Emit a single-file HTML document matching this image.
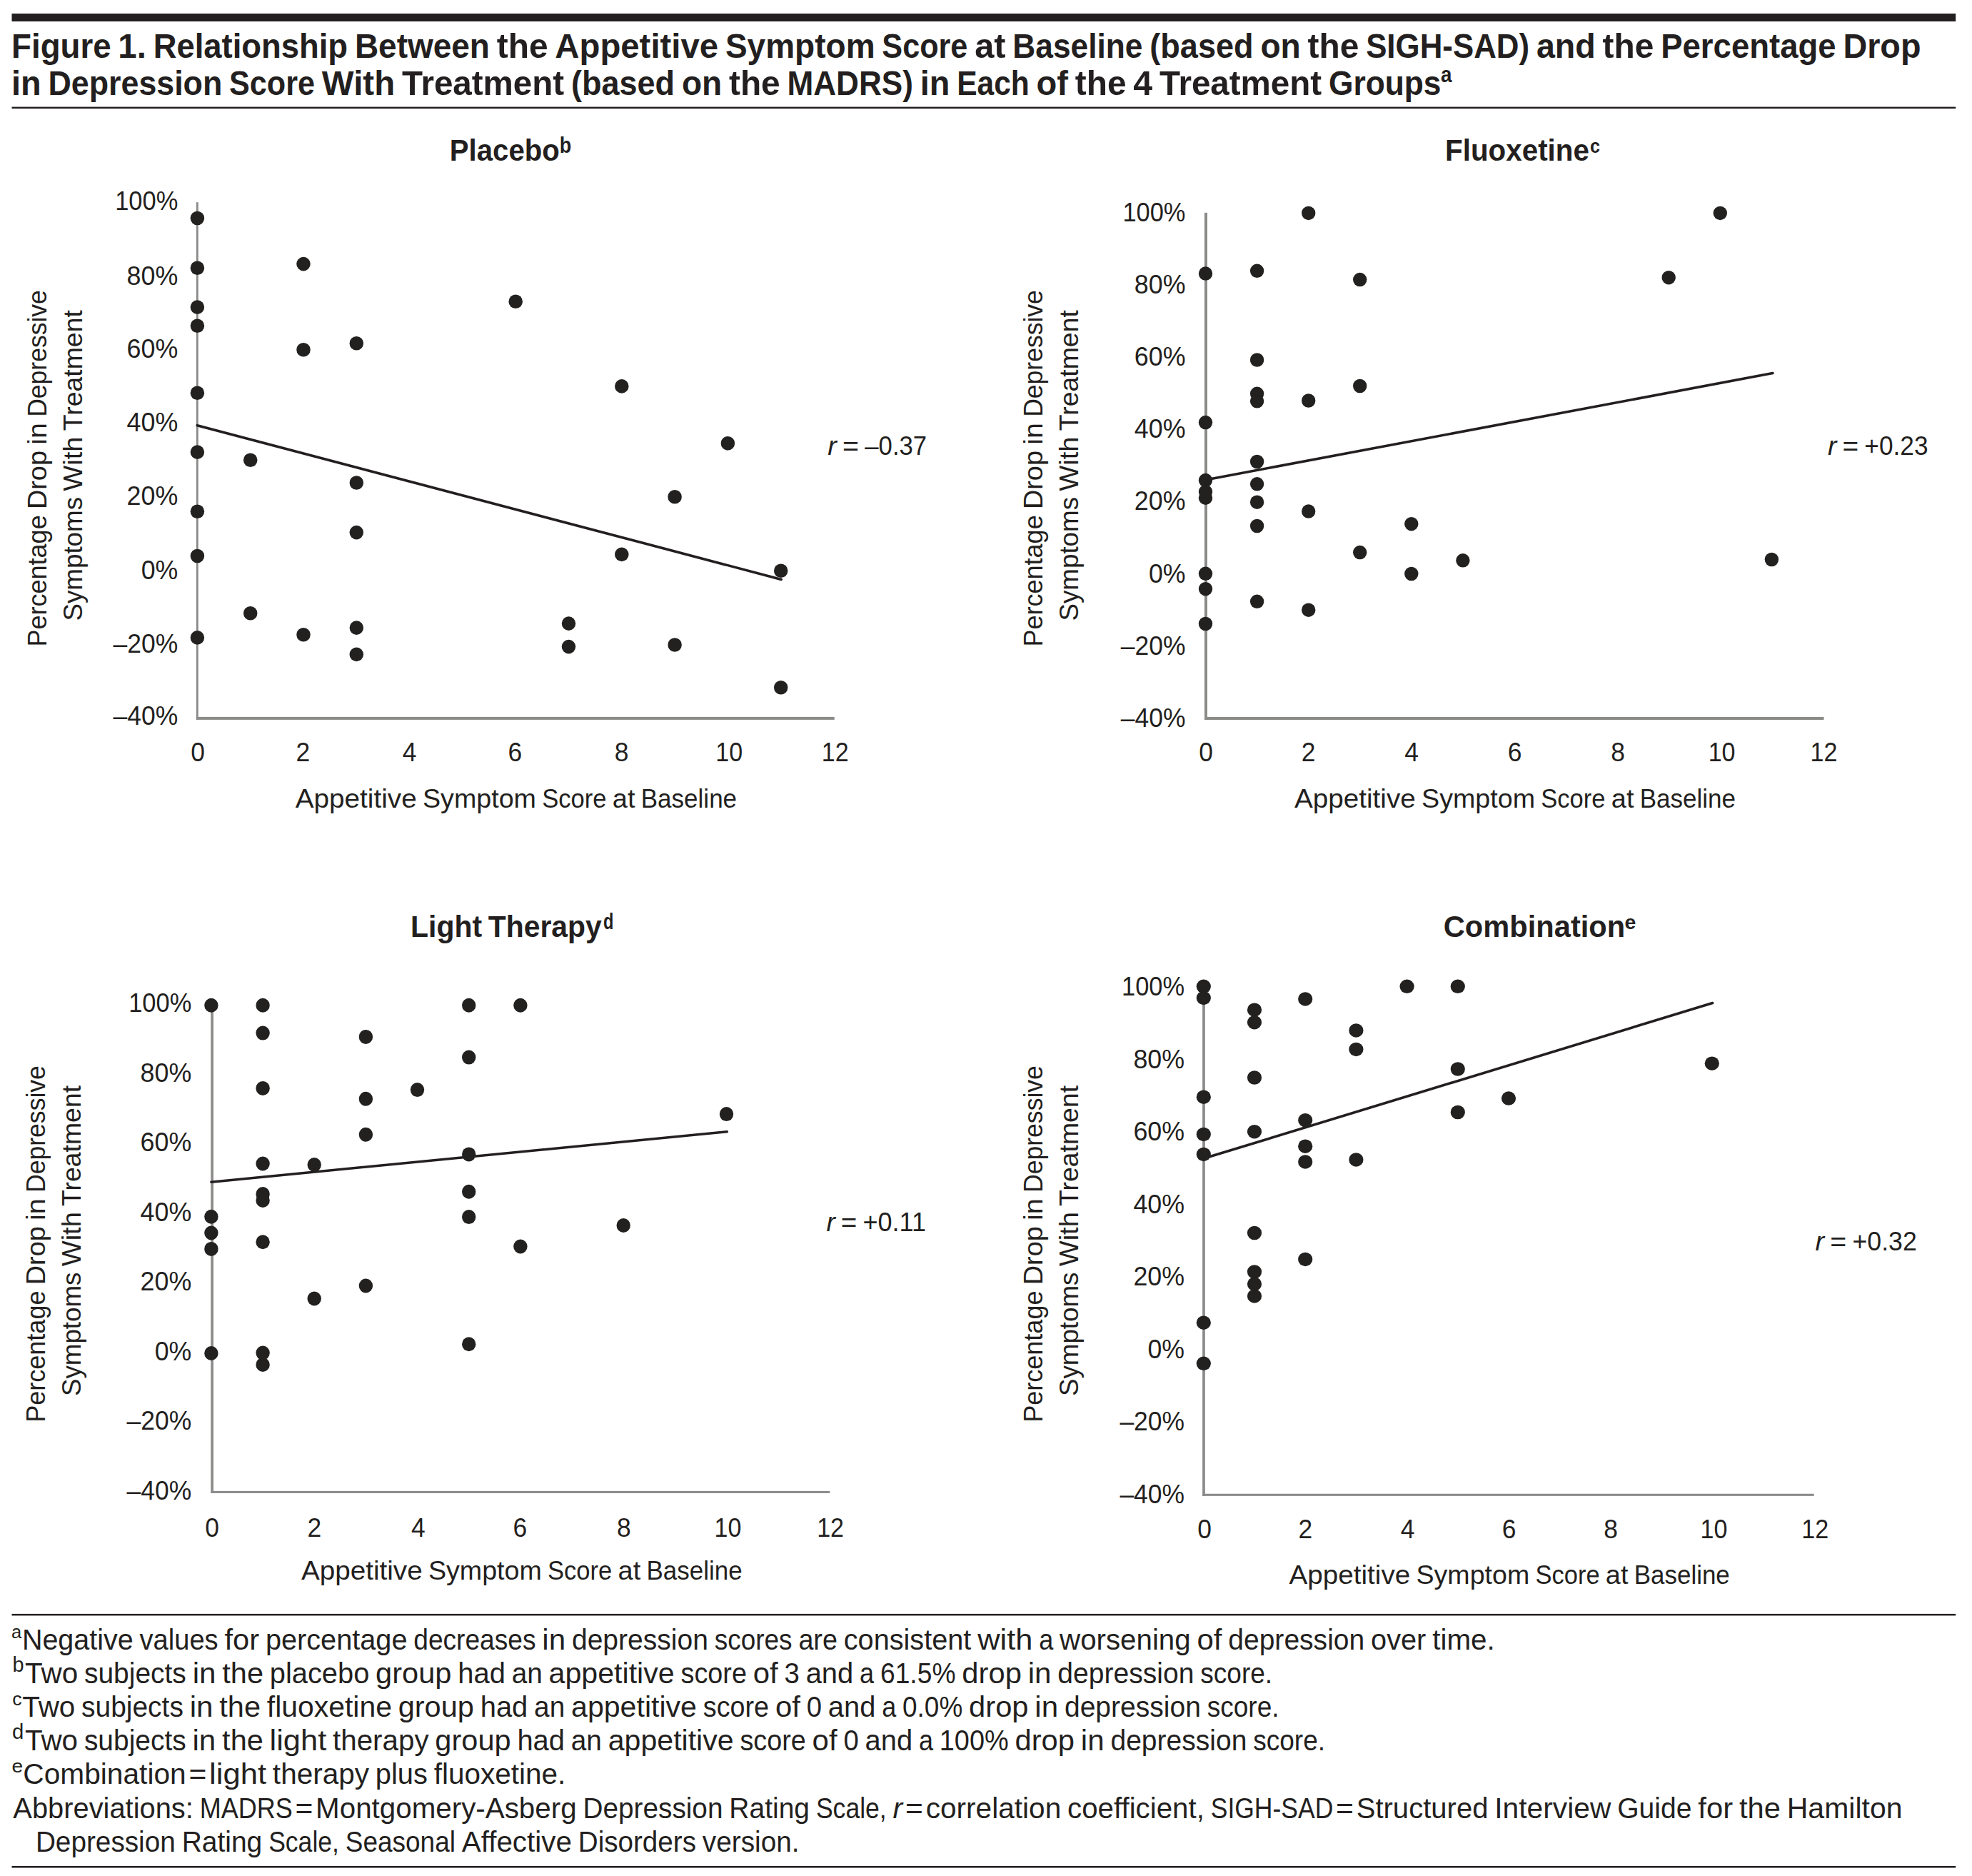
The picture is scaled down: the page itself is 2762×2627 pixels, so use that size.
<!DOCTYPE html>
<html lang="en">
<head>
<meta charset="utf-8">
<title>Figure 1</title>
<style>
html,body{margin:0;padding:0;background:#fff;}
svg{display:block;}
text{font-family:"Liberation Sans",sans-serif;fill:#231f20;white-space:pre;}
</style>
</head>
<body>
<svg width="2762" height="2627" viewBox="0 0 2762 2627" fill="#231f20">
<rect x="0" y="0" width="2762" height="2627" fill="#ffffff"/>
<rect x="16.50" y="19.00" width="2722.70" height="11.00" fill="#231f20"/>
<rect x="16.50" y="149.60" width="2722.70" height="2.50" fill="#231f20"/>
<rect x="16.50" y="2259.90" width="2722.70" height="2.50" fill="#231f20"/>
<rect x="16.50" y="2613.00" width="2722.70" height="2.50" fill="#231f20"/>
<text y="80.50" font-size="48.5" font-weight="bold"><tspan x="16.10" textLength="139.46" lengthAdjust="spacingAndGlyphs">Figure</tspan> <tspan x="165.36" textLength="39.51" lengthAdjust="spacingAndGlyphs">1.</tspan> <tspan x="214.66" textLength="272.43" lengthAdjust="spacingAndGlyphs">Relationship</tspan> <tspan x="496.88" textLength="189.05" lengthAdjust="spacingAndGlyphs">Between</tspan> <tspan x="695.73" textLength="71.79" lengthAdjust="spacingAndGlyphs">the</tspan> <tspan x="777.31" textLength="228.80" lengthAdjust="spacingAndGlyphs">Appetitive</tspan> <tspan x="1015.91" textLength="209.66" lengthAdjust="spacingAndGlyphs">Symptom</tspan> <tspan x="1235.36" textLength="120.03" lengthAdjust="spacingAndGlyphs">Score</tspan> <tspan x="1365.18" textLength="43.39" lengthAdjust="spacingAndGlyphs">at</tspan> <tspan x="1418.35" textLength="182.12" lengthAdjust="spacingAndGlyphs">Baseline</tspan> <tspan x="1610.27" textLength="145.33" lengthAdjust="spacingAndGlyphs">(based</tspan> <tspan x="1765.39" textLength="56.38" lengthAdjust="spacingAndGlyphs">on</tspan> <tspan x="1831.56" textLength="71.79" lengthAdjust="spacingAndGlyphs">the</tspan> <tspan x="1913.14" textLength="229.00" lengthAdjust="spacingAndGlyphs">SIGH-SAD)</tspan> <tspan x="2151.94" textLength="82.89" lengthAdjust="spacingAndGlyphs">and</tspan> <tspan x="2244.62" textLength="71.79" lengthAdjust="spacingAndGlyphs">the</tspan> <tspan x="2326.21" textLength="245.38" lengthAdjust="spacingAndGlyphs">Percentage</tspan> <tspan x="2581.38" textLength="109.12" lengthAdjust="spacingAndGlyphs">Drop</tspan></text>
<text y="132.90" font-size="48.5" font-weight="bold"><tspan x="16.10" textLength="41.64" lengthAdjust="spacingAndGlyphs">in</tspan> <tspan x="67.52" textLength="243.80" lengthAdjust="spacingAndGlyphs">Depression</tspan> <tspan x="321.10" textLength="119.89" lengthAdjust="spacingAndGlyphs">Score</tspan> <tspan x="450.77" textLength="102.41" lengthAdjust="spacingAndGlyphs">With</tspan> <tspan x="562.97" textLength="227.19" lengthAdjust="spacingAndGlyphs">Treatment</tspan> <tspan x="799.94" textLength="145.17" lengthAdjust="spacingAndGlyphs">(based</tspan> <tspan x="954.89" textLength="56.31" lengthAdjust="spacingAndGlyphs">on</tspan> <tspan x="1020.98" textLength="71.71" lengthAdjust="spacingAndGlyphs">the</tspan> <tspan x="1102.47" textLength="176.49" lengthAdjust="spacingAndGlyphs">MADRS)</tspan> <tspan x="1288.75" textLength="41.64" lengthAdjust="spacingAndGlyphs">in</tspan> <tspan x="1340.17" textLength="101.64" lengthAdjust="spacingAndGlyphs">Each</tspan> <tspan x="1451.59" textLength="44.45" lengthAdjust="spacingAndGlyphs">of</tspan> <tspan x="1505.82" textLength="71.71" lengthAdjust="spacingAndGlyphs">the</tspan> <tspan x="1587.31" textLength="26.87" lengthAdjust="spacingAndGlyphs">4</tspan> <tspan x="1623.97" textLength="227.19" lengthAdjust="spacingAndGlyphs">Treatment</tspan> <tspan x="1860.94" textLength="157.56" lengthAdjust="spacingAndGlyphs">Groups</tspan></text>
<text x="2018.00" y="114.50" font-size="32" textLength="15.50" lengthAdjust="spacingAndGlyphs" font-weight="bold">a</text>
<g><!-- Placebo -->
<rect x="274.85" y="283.20" width="2.90" height="724.70" fill="#8b8b8a"/>
<rect x="274.85" y="1003.90" width="893.85" height="4.00" fill="#8b8b8a"/>
<line x1="276.3" y1="595.7" x2="1094.3" y2="811.4" stroke="#231f20" stroke-width="3.6" stroke-linecap="round"/>
<ellipse cx="276.4" cy="305.5" rx="9.75" ry="9.8" fill="#222120"/>
<ellipse cx="276.4" cy="375.2" rx="9.75" ry="9.8" fill="#222120"/>
<ellipse cx="276.4" cy="430.1" rx="9.75" ry="9.8" fill="#222120"/>
<ellipse cx="276.4" cy="456.2" rx="9.75" ry="9.8" fill="#222120"/>
<ellipse cx="276.4" cy="550.2" rx="9.75" ry="9.8" fill="#222120"/>
<ellipse cx="276.4" cy="633.1" rx="9.75" ry="9.8" fill="#222120"/>
<ellipse cx="276.4" cy="716.2" rx="9.75" ry="9.8" fill="#222120"/>
<ellipse cx="276.4" cy="778.5" rx="9.75" ry="9.8" fill="#222120"/>
<ellipse cx="276.4" cy="892.9" rx="9.75" ry="9.8" fill="#222120"/>
<ellipse cx="350.7" cy="644.3" rx="9.75" ry="9.8" fill="#222120"/>
<ellipse cx="350.7" cy="858.7" rx="9.75" ry="9.8" fill="#222120"/>
<ellipse cx="425.0" cy="369.6" rx="9.75" ry="9.8" fill="#222120"/>
<ellipse cx="425.0" cy="489.8" rx="9.75" ry="9.8" fill="#222120"/>
<ellipse cx="425.0" cy="888.8" rx="9.75" ry="9.8" fill="#222120"/>
<ellipse cx="499.3" cy="480.8" rx="9.75" ry="9.8" fill="#222120"/>
<ellipse cx="499.3" cy="676.0" rx="9.75" ry="9.8" fill="#222120"/>
<ellipse cx="499.3" cy="745.6" rx="9.75" ry="9.8" fill="#222120"/>
<ellipse cx="499.3" cy="879.1" rx="9.75" ry="9.8" fill="#222120"/>
<ellipse cx="499.3" cy="916.4" rx="9.75" ry="9.8" fill="#222120"/>
<ellipse cx="722.2" cy="422.2" rx="9.75" ry="9.8" fill="#222120"/>
<ellipse cx="796.5" cy="873.1" rx="9.75" ry="9.8" fill="#222120"/>
<ellipse cx="796.5" cy="905.6" rx="9.75" ry="9.8" fill="#222120"/>
<ellipse cx="870.8" cy="540.9" rx="9.75" ry="9.8" fill="#222120"/>
<ellipse cx="870.8" cy="776.4" rx="9.75" ry="9.8" fill="#222120"/>
<ellipse cx="945.1" cy="695.7" rx="9.75" ry="9.8" fill="#222120"/>
<ellipse cx="945.1" cy="903.0" rx="9.75" ry="9.8" fill="#222120"/>
<ellipse cx="1019.4" cy="620.7" rx="9.75" ry="9.8" fill="#222120"/>
<ellipse cx="1093.7" cy="799.3" rx="9.75" ry="9.8" fill="#222120"/>
<ellipse cx="1093.7" cy="962.7" rx="9.75" ry="9.8" fill="#222120"/>
<text y="224.80" font-size="43.0" font-weight="bold"><tspan x="629.80" textLength="154.00" lengthAdjust="spacingAndGlyphs">Placebo</tspan></text>
<text x="783.70" y="213.50" font-size="31.0" textLength="16.50" lengthAdjust="spacingAndGlyphs" font-weight="bold">b</text>
<text x="249.30" y="293.90" font-size="37.0" textLength="88.10" lengthAdjust="spacingAndGlyphs" text-anchor="end">100%</text>
<text x="249.30" y="398.60" font-size="37.0" textLength="71.70" lengthAdjust="spacingAndGlyphs" text-anchor="end">80%</text>
<text x="249.30" y="500.50" font-size="37.0" textLength="71.70" lengthAdjust="spacingAndGlyphs" text-anchor="end">60%</text>
<text x="249.30" y="603.90" font-size="37.0" textLength="71.70" lengthAdjust="spacingAndGlyphs" text-anchor="end">40%</text>
<text x="249.30" y="707.30" font-size="37.0" textLength="71.70" lengthAdjust="spacingAndGlyphs" text-anchor="end">20%</text>
<text x="249.30" y="810.70" font-size="37.0" textLength="51.60" lengthAdjust="spacingAndGlyphs" text-anchor="end">0%</text>
<text x="249.30" y="914.10" font-size="37.0" textLength="90.70" lengthAdjust="spacingAndGlyphs" text-anchor="end">–20%</text>
<text x="249.30" y="1014.70" font-size="37.0" textLength="90.70" lengthAdjust="spacingAndGlyphs" text-anchor="end">–40%</text>
<text x="277.00" y="1065.70" font-size="37.0" textLength="19.70" lengthAdjust="spacingAndGlyphs" text-anchor="middle">0</text>
<text x="424.30" y="1065.70" font-size="37.0" textLength="19.70" lengthAdjust="spacingAndGlyphs" text-anchor="middle">2</text>
<text x="573.50" y="1065.70" font-size="37.0" textLength="19.70" lengthAdjust="spacingAndGlyphs" text-anchor="middle">4</text>
<text x="721.30" y="1065.70" font-size="37.0" textLength="19.70" lengthAdjust="spacingAndGlyphs" text-anchor="middle">6</text>
<text x="870.50" y="1065.70" font-size="37.0" textLength="19.70" lengthAdjust="spacingAndGlyphs" text-anchor="middle">8</text>
<text x="1021.30" y="1065.70" font-size="37.0" textLength="37.90" lengthAdjust="spacingAndGlyphs" text-anchor="middle">10</text>
<text x="1169.80" y="1065.70" font-size="37.0" textLength="37.90" lengthAdjust="spacingAndGlyphs" text-anchor="middle">12</text>
<text y="1131.00" font-size="37.5"><tspan x="413.70" textLength="170.01" lengthAdjust="spacingAndGlyphs">Appetitive</tspan> <tspan x="591.97" textLength="159.02" lengthAdjust="spacingAndGlyphs">Symptom</tspan> <tspan x="759.26" textLength="90.32" lengthAdjust="spacingAndGlyphs">Score</tspan> <tspan x="857.84" textLength="31.68" lengthAdjust="spacingAndGlyphs">at</tspan> <tspan x="897.78" textLength="134.32" lengthAdjust="spacingAndGlyphs">Baseline</tspan></text>
<text y="0.00" font-size="37.5" transform="translate(65.20 903.00) rotate(-90)"><tspan x="-2.50" textLength="184.17" lengthAdjust="spacingAndGlyphs">Percentage</tspan> <tspan x="189.91" textLength="82.07" lengthAdjust="spacingAndGlyphs">Drop</tspan> <tspan x="280.23" textLength="30.68" lengthAdjust="spacingAndGlyphs">in</tspan> <tspan x="319.15" textLength="177.75" lengthAdjust="spacingAndGlyphs">Depressive</tspan></text>
<text y="0.00" font-size="37.5" transform="translate(115.00 868.10) rotate(-90)"><tspan x="-1.50" textLength="173.68" lengthAdjust="spacingAndGlyphs">Symptoms</tspan> <tspan x="180.40" textLength="76.27" lengthAdjust="spacingAndGlyphs">With</tspan> <tspan x="264.90" textLength="169.10" lengthAdjust="spacingAndGlyphs">Treatment</tspan></text>
<text y="637.20" font-size="37.5"><tspan x="1159.30" textLength="12.63" lengthAdjust="spacingAndGlyphs" font-style="italic">r</tspan> <tspan x="1180.12" textLength="23.02" lengthAdjust="spacingAndGlyphs">=</tspan> <tspan x="1211.34" textLength="86.76" lengthAdjust="spacingAndGlyphs">–0.37</tspan></text>
</g>
<g><!-- Fluoxetine -->
<rect x="1687.00" y="297.90" width="4.00" height="710.10" fill="#8b8b8a"/>
<rect x="1687.00" y="1004.00" width="867.50" height="4.00" fill="#8b8b8a"/>
<line x1="1688.6" y1="671.9" x2="2482.9" y2="522.6" stroke="#231f20" stroke-width="3.6" stroke-linecap="round"/>
<ellipse cx="1688.5" cy="383.1" rx="9.7" ry="9.75" fill="#222120"/>
<ellipse cx="1688.5" cy="591.6" rx="9.7" ry="9.75" fill="#222120"/>
<ellipse cx="1688.5" cy="672.6" rx="9.7" ry="9.75" fill="#222120"/>
<ellipse cx="1688.5" cy="688.7" rx="9.7" ry="9.75" fill="#222120"/>
<ellipse cx="1688.5" cy="697.2" rx="9.7" ry="9.75" fill="#222120"/>
<ellipse cx="1688.5" cy="803.3" rx="9.7" ry="9.75" fill="#222120"/>
<ellipse cx="1688.5" cy="824.7" rx="9.7" ry="9.75" fill="#222120"/>
<ellipse cx="1688.5" cy="873.5" rx="9.7" ry="9.75" fill="#222120"/>
<ellipse cx="1760.6" cy="379.3" rx="9.7" ry="9.75" fill="#222120"/>
<ellipse cx="1760.6" cy="504.0" rx="9.7" ry="9.75" fill="#222120"/>
<ellipse cx="1760.6" cy="551.3" rx="9.7" ry="9.75" fill="#222120"/>
<ellipse cx="1760.6" cy="561.8" rx="9.7" ry="9.75" fill="#222120"/>
<ellipse cx="1760.6" cy="646.5" rx="9.7" ry="9.75" fill="#222120"/>
<ellipse cx="1760.6" cy="677.8" rx="9.7" ry="9.75" fill="#222120"/>
<ellipse cx="1760.6" cy="703.2" rx="9.7" ry="9.75" fill="#222120"/>
<ellipse cx="1760.6" cy="736.5" rx="9.7" ry="9.75" fill="#222120"/>
<ellipse cx="1760.6" cy="842.3" rx="9.7" ry="9.75" fill="#222120"/>
<ellipse cx="1832.7" cy="298.4" rx="9.7" ry="9.75" fill="#222120"/>
<ellipse cx="1832.7" cy="561.0" rx="9.7" ry="9.75" fill="#222120"/>
<ellipse cx="1832.7" cy="716.1" rx="9.7" ry="9.75" fill="#222120"/>
<ellipse cx="1832.7" cy="854.2" rx="9.7" ry="9.75" fill="#222120"/>
<ellipse cx="1904.7" cy="391.6" rx="9.7" ry="9.75" fill="#222120"/>
<ellipse cx="1904.7" cy="540.5" rx="9.7" ry="9.75" fill="#222120"/>
<ellipse cx="1904.7" cy="773.6" rx="9.7" ry="9.75" fill="#222120"/>
<ellipse cx="1976.8" cy="733.7" rx="9.7" ry="9.75" fill="#222120"/>
<ellipse cx="1976.8" cy="803.5" rx="9.7" ry="9.75" fill="#222120"/>
<ellipse cx="2048.9" cy="784.8" rx="9.7" ry="9.75" fill="#222120"/>
<ellipse cx="2337.2" cy="388.7" rx="9.7" ry="9.75" fill="#222120"/>
<ellipse cx="2409.3" cy="298.4" rx="9.7" ry="9.75" fill="#222120"/>
<ellipse cx="2481.4" cy="783.5" rx="9.7" ry="9.75" fill="#222120"/>
<text y="224.80" font-size="43.0" font-weight="bold"><tspan x="2024.10" textLength="201.80" lengthAdjust="spacingAndGlyphs">Fluoxetine</tspan></text>
<text x="2227.00" y="213.50" font-size="28.0" textLength="14.00" lengthAdjust="spacingAndGlyphs" font-weight="bold">c</text>
<text x="1660.50" y="309.80" font-size="37.0" textLength="88.10" lengthAdjust="spacingAndGlyphs" text-anchor="end">100%</text>
<text x="1660.50" y="410.96" font-size="37.0" textLength="71.70" lengthAdjust="spacingAndGlyphs" text-anchor="end">80%</text>
<text x="1660.50" y="512.12" font-size="37.0" textLength="71.70" lengthAdjust="spacingAndGlyphs" text-anchor="end">60%</text>
<text x="1660.50" y="613.28" font-size="37.0" textLength="71.70" lengthAdjust="spacingAndGlyphs" text-anchor="end">40%</text>
<text x="1660.50" y="714.44" font-size="37.0" textLength="71.70" lengthAdjust="spacingAndGlyphs" text-anchor="end">20%</text>
<text x="1660.50" y="815.60" font-size="37.0" textLength="51.60" lengthAdjust="spacingAndGlyphs" text-anchor="end">0%</text>
<text x="1660.50" y="916.76" font-size="37.0" textLength="90.70" lengthAdjust="spacingAndGlyphs" text-anchor="end">–20%</text>
<text x="1660.50" y="1017.92" font-size="37.0" textLength="90.70" lengthAdjust="spacingAndGlyphs" text-anchor="end">–40%</text>
<text x="1689.00" y="1065.70" font-size="37.0" textLength="19.70" lengthAdjust="spacingAndGlyphs" text-anchor="middle">0</text>
<text x="1832.50" y="1065.70" font-size="37.0" textLength="19.70" lengthAdjust="spacingAndGlyphs" text-anchor="middle">2</text>
<text x="1977.20" y="1065.70" font-size="37.0" textLength="19.70" lengthAdjust="spacingAndGlyphs" text-anchor="middle">4</text>
<text x="2121.70" y="1065.70" font-size="37.0" textLength="19.70" lengthAdjust="spacingAndGlyphs" text-anchor="middle">6</text>
<text x="2266.10" y="1065.70" font-size="37.0" textLength="19.70" lengthAdjust="spacingAndGlyphs" text-anchor="middle">8</text>
<text x="2411.60" y="1065.70" font-size="37.0" textLength="37.90" lengthAdjust="spacingAndGlyphs" text-anchor="middle">10</text>
<text x="2554.50" y="1065.70" font-size="37.0" textLength="37.90" lengthAdjust="spacingAndGlyphs" text-anchor="middle">12</text>
<text y="1131.00" font-size="37.5"><tspan x="1812.90" textLength="169.93" lengthAdjust="spacingAndGlyphs">Appetitive</tspan> <tspan x="1991.09" textLength="158.95" lengthAdjust="spacingAndGlyphs">Symptom</tspan> <tspan x="2158.29" textLength="90.28" lengthAdjust="spacingAndGlyphs">Score</tspan> <tspan x="2256.83" textLength="31.66" lengthAdjust="spacingAndGlyphs">at</tspan> <tspan x="2296.75" textLength="134.25" lengthAdjust="spacingAndGlyphs">Baseline</tspan></text>
<text y="0.00" font-size="37.5" transform="translate(1459.50 903.00) rotate(-90)"><tspan x="-2.50" textLength="184.17" lengthAdjust="spacingAndGlyphs">Percentage</tspan> <tspan x="189.91" textLength="82.07" lengthAdjust="spacingAndGlyphs">Drop</tspan> <tspan x="280.23" textLength="30.68" lengthAdjust="spacingAndGlyphs">in</tspan> <tspan x="319.15" textLength="177.75" lengthAdjust="spacingAndGlyphs">Depressive</tspan></text>
<text y="0.00" font-size="37.5" transform="translate(1509.90 868.10) rotate(-90)"><tspan x="-1.50" textLength="173.68" lengthAdjust="spacingAndGlyphs">Symptoms</tspan> <tspan x="180.40" textLength="76.27" lengthAdjust="spacingAndGlyphs">With</tspan> <tspan x="264.90" textLength="169.10" lengthAdjust="spacingAndGlyphs">Treatment</tspan></text>
<text y="637.20" font-size="37.5"><tspan x="2560.10" textLength="12.45" lengthAdjust="spacingAndGlyphs" font-style="italic">r</tspan> <tspan x="2580.61" textLength="22.68" lengthAdjust="spacingAndGlyphs">=</tspan> <tspan x="2611.37" textLength="89.13" lengthAdjust="spacingAndGlyphs">+0.23</tspan></text>
</g>
<g><!-- Light Therapy -->
<rect x="295.25" y="1407.80" width="3.70" height="683.15" fill="#8b8b8a"/>
<rect x="295.25" y="2087.85" width="867.05" height="3.10" fill="#8b8b8a"/>
<line x1="295.9" y1="1655.2" x2="1018.3" y2="1584.7" stroke="#231f20" stroke-width="3.6" stroke-linecap="round"/>
<ellipse cx="295.9" cy="1407.8" rx="9.7" ry="10.0" fill="#222120"/>
<ellipse cx="295.9" cy="1703.7" rx="9.7" ry="10.0" fill="#222120"/>
<ellipse cx="295.9" cy="1726.5" rx="9.7" ry="10.0" fill="#222120"/>
<ellipse cx="295.9" cy="1748.9" rx="9.7" ry="10.0" fill="#222120"/>
<ellipse cx="295.9" cy="1895.0" rx="9.7" ry="10.0" fill="#222120"/>
<ellipse cx="368.1" cy="1407.8" rx="9.7" ry="10.0" fill="#222120"/>
<ellipse cx="368.1" cy="1446.6" rx="9.7" ry="10.0" fill="#222120"/>
<ellipse cx="368.1" cy="1523.9" rx="9.7" ry="10.0" fill="#222120"/>
<ellipse cx="368.1" cy="1629.5" rx="9.7" ry="10.0" fill="#222120"/>
<ellipse cx="368.1" cy="1672.0" rx="9.7" ry="10.0" fill="#222120"/>
<ellipse cx="368.1" cy="1681.0" rx="9.7" ry="10.0" fill="#222120"/>
<ellipse cx="368.1" cy="1739.2" rx="9.7" ry="10.0" fill="#222120"/>
<ellipse cx="368.1" cy="1894.6" rx="9.7" ry="10.0" fill="#222120"/>
<ellipse cx="368.1" cy="1911.0" rx="9.7" ry="10.0" fill="#222120"/>
<ellipse cx="440.2" cy="1631.0" rx="9.7" ry="10.0" fill="#222120"/>
<ellipse cx="440.2" cy="1818.5" rx="9.7" ry="10.0" fill="#222120"/>
<ellipse cx="512.4" cy="1451.9" rx="9.7" ry="10.0" fill="#222120"/>
<ellipse cx="512.4" cy="1538.8" rx="9.7" ry="10.0" fill="#222120"/>
<ellipse cx="512.4" cy="1588.8" rx="9.7" ry="10.0" fill="#222120"/>
<ellipse cx="512.4" cy="1800.5" rx="9.7" ry="10.0" fill="#222120"/>
<ellipse cx="584.5" cy="1526.1" rx="9.7" ry="10.0" fill="#222120"/>
<ellipse cx="656.7" cy="1407.8" rx="9.7" ry="10.0" fill="#222120"/>
<ellipse cx="656.7" cy="1480.6" rx="9.7" ry="10.0" fill="#222120"/>
<ellipse cx="656.7" cy="1616.4" rx="9.7" ry="10.0" fill="#222120"/>
<ellipse cx="656.7" cy="1668.7" rx="9.7" ry="10.0" fill="#222120"/>
<ellipse cx="656.7" cy="1704.1" rx="9.7" ry="10.0" fill="#222120"/>
<ellipse cx="656.7" cy="1882.3" rx="9.7" ry="10.0" fill="#222120"/>
<ellipse cx="728.9" cy="1407.8" rx="9.7" ry="10.0" fill="#222120"/>
<ellipse cx="728.9" cy="1745.5" rx="9.7" ry="10.0" fill="#222120"/>
<ellipse cx="873.2" cy="1716.0" rx="9.7" ry="10.0" fill="#222120"/>
<ellipse cx="1017.5" cy="1560.1" rx="9.7" ry="10.0" fill="#222120"/>
<text y="1311.80" font-size="43.0" font-weight="bold"><tspan x="575.00" textLength="100.08" lengthAdjust="spacingAndGlyphs">Light</tspan> <tspan x="683.78" textLength="159.02" lengthAdjust="spacingAndGlyphs">Therapy</tspan></text>
<text x="844.90" y="1300.50" font-size="31.0" textLength="14.40" lengthAdjust="spacingAndGlyphs" font-weight="bold">d</text>
<text x="268.30" y="1417.00" font-size="37.0" textLength="88.10" lengthAdjust="spacingAndGlyphs" text-anchor="end">100%</text>
<text x="268.30" y="1514.51" font-size="37.0" textLength="71.70" lengthAdjust="spacingAndGlyphs" text-anchor="end">80%</text>
<text x="268.30" y="1612.02" font-size="37.0" textLength="71.70" lengthAdjust="spacingAndGlyphs" text-anchor="end">60%</text>
<text x="268.30" y="1709.53" font-size="37.0" textLength="71.70" lengthAdjust="spacingAndGlyphs" text-anchor="end">40%</text>
<text x="268.30" y="1807.04" font-size="37.0" textLength="71.70" lengthAdjust="spacingAndGlyphs" text-anchor="end">20%</text>
<text x="268.30" y="1904.55" font-size="37.0" textLength="51.60" lengthAdjust="spacingAndGlyphs" text-anchor="end">0%</text>
<text x="268.30" y="2002.06" font-size="37.0" textLength="90.70" lengthAdjust="spacingAndGlyphs" text-anchor="end">–20%</text>
<text x="268.30" y="2099.57" font-size="37.0" textLength="90.70" lengthAdjust="spacingAndGlyphs" text-anchor="end">–40%</text>
<text x="297.00" y="2151.80" font-size="37.0" textLength="19.70" lengthAdjust="spacingAndGlyphs" text-anchor="middle">0</text>
<text x="440.30" y="2151.80" font-size="37.0" textLength="19.70" lengthAdjust="spacingAndGlyphs" text-anchor="middle">2</text>
<text x="585.80" y="2151.80" font-size="37.0" textLength="19.70" lengthAdjust="spacingAndGlyphs" text-anchor="middle">4</text>
<text x="728.40" y="2151.80" font-size="37.0" textLength="19.70" lengthAdjust="spacingAndGlyphs" text-anchor="middle">6</text>
<text x="873.90" y="2151.80" font-size="37.0" textLength="19.70" lengthAdjust="spacingAndGlyphs" text-anchor="middle">8</text>
<text x="1019.40" y="2151.80" font-size="37.0" textLength="37.90" lengthAdjust="spacingAndGlyphs" text-anchor="middle">10</text>
<text x="1163.10" y="2151.80" font-size="37.0" textLength="37.90" lengthAdjust="spacingAndGlyphs" text-anchor="middle">12</text>
<text y="2211.60" font-size="37.5"><tspan x="421.90" textLength="169.82" lengthAdjust="spacingAndGlyphs">Appetitive</tspan> <tspan x="599.97" textLength="158.84" lengthAdjust="spacingAndGlyphs">Symptom</tspan> <tspan x="767.06" textLength="90.22" lengthAdjust="spacingAndGlyphs">Score</tspan> <tspan x="865.54" textLength="31.64" lengthAdjust="spacingAndGlyphs">at</tspan> <tspan x="905.43" textLength="134.17" lengthAdjust="spacingAndGlyphs">Baseline</tspan></text>
<text y="0.00" font-size="37.5" transform="translate(63.20 1989.30) rotate(-90)"><tspan x="-2.50" textLength="184.28" lengthAdjust="spacingAndGlyphs">Percentage</tspan> <tspan x="190.03" textLength="82.12" lengthAdjust="spacingAndGlyphs">Drop</tspan> <tspan x="280.40" textLength="30.69" lengthAdjust="spacingAndGlyphs">in</tspan> <tspan x="319.34" textLength="177.86" lengthAdjust="spacingAndGlyphs">Depressive</tspan></text>
<text y="0.00" font-size="37.5" transform="translate(112.70 1953.60) rotate(-90)"><tspan x="-1.50" textLength="173.56" lengthAdjust="spacingAndGlyphs">Symptoms</tspan> <tspan x="180.28" textLength="76.22" lengthAdjust="spacingAndGlyphs">With</tspan> <tspan x="264.71" textLength="168.99" lengthAdjust="spacingAndGlyphs">Treatment</tspan></text>
<text y="1723.90" font-size="37.5"><tspan x="1157.50" textLength="12.37" lengthAdjust="spacingAndGlyphs" font-style="italic">r</tspan> <tspan x="1177.88" textLength="22.54" lengthAdjust="spacingAndGlyphs">=</tspan> <tspan x="1208.44" textLength="88.56" lengthAdjust="spacingAndGlyphs">+0.11</tspan></text>
</g>
<g><!-- Combination -->
<rect x="1684.15" y="1381.30" width="3.70" height="713.55" fill="#8b8b8a"/>
<rect x="1684.15" y="2091.75" width="856.55" height="3.10" fill="#8b8b8a"/>
<line x1="1685.8" y1="1622.3" x2="2398.6" y2="1404.5" stroke="#231f20" stroke-width="3.6" stroke-linecap="round"/>
<ellipse cx="1685.8" cy="1381.3" rx="10.1" ry="9.75" fill="#222120"/>
<ellipse cx="1685.8" cy="1397.4" rx="10.1" ry="9.75" fill="#222120"/>
<ellipse cx="1685.8" cy="1536.2" rx="10.1" ry="9.75" fill="#222120"/>
<ellipse cx="1685.8" cy="1588.4" rx="10.1" ry="9.75" fill="#222120"/>
<ellipse cx="1685.8" cy="1616.4" rx="10.1" ry="9.75" fill="#222120"/>
<ellipse cx="1685.8" cy="1852.2" rx="10.1" ry="9.75" fill="#222120"/>
<ellipse cx="1685.8" cy="1909.3" rx="10.1" ry="9.75" fill="#222120"/>
<ellipse cx="1757.0" cy="1414.2" rx="10.1" ry="9.75" fill="#222120"/>
<ellipse cx="1757.0" cy="1431.7" rx="10.1" ry="9.75" fill="#222120"/>
<ellipse cx="1757.0" cy="1509.0" rx="10.1" ry="9.75" fill="#222120"/>
<ellipse cx="1757.0" cy="1584.7" rx="10.1" ry="9.75" fill="#222120"/>
<ellipse cx="1757.0" cy="1726.5" rx="10.1" ry="9.75" fill="#222120"/>
<ellipse cx="1757.0" cy="1781.0" rx="10.1" ry="9.75" fill="#222120"/>
<ellipse cx="1757.0" cy="1798.1" rx="10.1" ry="9.75" fill="#222120"/>
<ellipse cx="1757.0" cy="1814.9" rx="10.1" ry="9.75" fill="#222120"/>
<ellipse cx="1828.2" cy="1398.9" rx="10.1" ry="9.75" fill="#222120"/>
<ellipse cx="1828.2" cy="1568.7" rx="10.1" ry="9.75" fill="#222120"/>
<ellipse cx="1828.2" cy="1605.2" rx="10.1" ry="9.75" fill="#222120"/>
<ellipse cx="1828.2" cy="1626.9" rx="10.1" ry="9.75" fill="#222120"/>
<ellipse cx="1828.2" cy="1763.4" rx="10.1" ry="9.75" fill="#222120"/>
<ellipse cx="1899.4" cy="1442.9" rx="10.1" ry="9.75" fill="#222120"/>
<ellipse cx="1899.4" cy="1469.4" rx="10.1" ry="9.75" fill="#222120"/>
<ellipse cx="1899.4" cy="1623.9" rx="10.1" ry="9.75" fill="#222120"/>
<ellipse cx="1970.6" cy="1381.3" rx="10.1" ry="9.75" fill="#222120"/>
<ellipse cx="2041.8" cy="1381.3" rx="10.1" ry="9.75" fill="#222120"/>
<ellipse cx="2041.8" cy="1497.0" rx="10.1" ry="9.75" fill="#222120"/>
<ellipse cx="2041.8" cy="1557.5" rx="10.1" ry="9.75" fill="#222120"/>
<ellipse cx="2113.0" cy="1538.1" rx="10.1" ry="9.75" fill="#222120"/>
<ellipse cx="2397.8" cy="1489.2" rx="10.1" ry="9.75" fill="#222120"/>
<text y="1311.80" font-size="43.0" font-weight="bold"><tspan x="2021.80" textLength="254.40" lengthAdjust="spacingAndGlyphs">Combination</tspan></text>
<text x="2275.60" y="1300.50" font-size="28.0" textLength="15.80" lengthAdjust="spacingAndGlyphs" font-weight="bold">e</text>
<text x="1659.10" y="1394.10" font-size="37.0" textLength="88.10" lengthAdjust="spacingAndGlyphs" text-anchor="end">100%</text>
<text x="1659.10" y="1495.61" font-size="37.0" textLength="71.70" lengthAdjust="spacingAndGlyphs" text-anchor="end">80%</text>
<text x="1659.10" y="1597.12" font-size="37.0" textLength="71.70" lengthAdjust="spacingAndGlyphs" text-anchor="end">60%</text>
<text x="1659.10" y="1698.63" font-size="37.0" textLength="71.70" lengthAdjust="spacingAndGlyphs" text-anchor="end">40%</text>
<text x="1659.10" y="1800.14" font-size="37.0" textLength="71.70" lengthAdjust="spacingAndGlyphs" text-anchor="end">20%</text>
<text x="1659.10" y="1901.65" font-size="37.0" textLength="51.60" lengthAdjust="spacingAndGlyphs" text-anchor="end">0%</text>
<text x="1659.10" y="2003.16" font-size="37.0" textLength="90.70" lengthAdjust="spacingAndGlyphs" text-anchor="end">–20%</text>
<text x="1659.10" y="2104.67" font-size="37.0" textLength="90.70" lengthAdjust="spacingAndGlyphs" text-anchor="end">–40%</text>
<text x="1687.00" y="2153.60" font-size="37.0" textLength="19.70" lengthAdjust="spacingAndGlyphs" text-anchor="middle">0</text>
<text x="1828.40" y="2153.60" font-size="37.0" textLength="19.70" lengthAdjust="spacingAndGlyphs" text-anchor="middle">2</text>
<text x="1971.60" y="2153.60" font-size="37.0" textLength="19.70" lengthAdjust="spacingAndGlyphs" text-anchor="middle">4</text>
<text x="2113.50" y="2153.60" font-size="37.0" textLength="19.70" lengthAdjust="spacingAndGlyphs" text-anchor="middle">6</text>
<text x="2256.00" y="2153.60" font-size="37.0" textLength="19.70" lengthAdjust="spacingAndGlyphs" text-anchor="middle">8</text>
<text x="2400.40" y="2153.60" font-size="37.0" textLength="37.90" lengthAdjust="spacingAndGlyphs" text-anchor="middle">10</text>
<text x="2542.20" y="2153.60" font-size="37.0" textLength="37.90" lengthAdjust="spacingAndGlyphs" text-anchor="middle">12</text>
<text y="2217.90" font-size="37.5"><tspan x="1805.50" textLength="169.71" lengthAdjust="spacingAndGlyphs">Appetitive</tspan> <tspan x="1983.46" textLength="158.74" lengthAdjust="spacingAndGlyphs">Symptom</tspan> <tspan x="2150.44" textLength="90.16" lengthAdjust="spacingAndGlyphs">Score</tspan> <tspan x="2248.85" textLength="31.62" lengthAdjust="spacingAndGlyphs">at</tspan> <tspan x="2288.72" textLength="134.08" lengthAdjust="spacingAndGlyphs">Baseline</tspan></text>
<text y="0.00" font-size="37.5" transform="translate(1459.50 1989.30) rotate(-90)"><tspan x="-2.50" textLength="184.28" lengthAdjust="spacingAndGlyphs">Percentage</tspan> <tspan x="190.03" textLength="82.12" lengthAdjust="spacingAndGlyphs">Drop</tspan> <tspan x="280.40" textLength="30.69" lengthAdjust="spacingAndGlyphs">in</tspan> <tspan x="319.34" textLength="177.86" lengthAdjust="spacingAndGlyphs">Depressive</tspan></text>
<text y="0.00" font-size="37.5" transform="translate(1509.90 1953.60) rotate(-90)"><tspan x="-1.50" textLength="173.56" lengthAdjust="spacingAndGlyphs">Symptoms</tspan> <tspan x="180.28" textLength="76.22" lengthAdjust="spacingAndGlyphs">With</tspan> <tspan x="264.71" textLength="168.99" lengthAdjust="spacingAndGlyphs">Treatment</tspan></text>
<text y="1750.80" font-size="37.5"><tspan x="2542.60" textLength="12.60" lengthAdjust="spacingAndGlyphs" font-style="italic">r</tspan> <tspan x="2563.38" textLength="22.97" lengthAdjust="spacingAndGlyphs">=</tspan> <tspan x="2594.52" textLength="90.28" lengthAdjust="spacingAndGlyphs">+0.32</tspan></text>
</g>
<text x="16.00" y="2293.50" font-size="26.5" textLength="14.20" lengthAdjust="spacingAndGlyphs">a</text>
<text y="2309.50" font-size="40.0"><tspan x="30.90" textLength="155.85" lengthAdjust="spacingAndGlyphs">Negative</tspan> <tspan x="195.57" textLength="110.10" lengthAdjust="spacingAndGlyphs">values</tspan> <tspan x="314.49" textLength="48.58" lengthAdjust="spacingAndGlyphs">for</tspan> <tspan x="371.89" textLength="198.57" lengthAdjust="spacingAndGlyphs">percentage</tspan> <tspan x="579.28" textLength="171.20" lengthAdjust="spacingAndGlyphs">decreases</tspan> <tspan x="759.30" textLength="32.82" lengthAdjust="spacingAndGlyphs">in</tspan> <tspan x="800.93" textLength="191.00" lengthAdjust="spacingAndGlyphs">depression</tspan> <tspan x="1000.75" textLength="108.85" lengthAdjust="spacingAndGlyphs">scores</tspan> <tspan x="1118.42" textLength="54.49" lengthAdjust="spacingAndGlyphs">are</tspan> <tspan x="1181.73" textLength="178.69" lengthAdjust="spacingAndGlyphs">consistent</tspan> <tspan x="1369.23" textLength="77.20" lengthAdjust="spacingAndGlyphs">with</tspan> <tspan x="1455.25" textLength="20.05" lengthAdjust="spacingAndGlyphs">a</tspan> <tspan x="1484.11" textLength="183.51" lengthAdjust="spacingAndGlyphs">worsening</tspan> <tspan x="1676.44" textLength="34.98" lengthAdjust="spacingAndGlyphs">of</tspan> <tspan x="1720.24" textLength="191.00" lengthAdjust="spacingAndGlyphs">depression</tspan> <tspan x="1920.06" textLength="77.28" lengthAdjust="spacingAndGlyphs">over</tspan> <tspan x="2006.16" textLength="87.64" lengthAdjust="spacingAndGlyphs">time.</tspan></text>
<text x="17.60" y="2340.72" font-size="29.5" textLength="16.10" lengthAdjust="spacingAndGlyphs">b</text>
<text y="2356.72" font-size="40.0"><tspan x="35.00" textLength="74.13" lengthAdjust="spacingAndGlyphs">Two</tspan> <tspan x="117.94" textLength="142.89" lengthAdjust="spacingAndGlyphs">subjects</tspan> <tspan x="269.65" textLength="32.82" lengthAdjust="spacingAndGlyphs">in</tspan> <tspan x="311.29" textLength="57.70" lengthAdjust="spacingAndGlyphs">the</tspan> <tspan x="377.80" textLength="139.52" lengthAdjust="spacingAndGlyphs">placebo</tspan> <tspan x="526.14" textLength="106.28" lengthAdjust="spacingAndGlyphs">group</tspan> <tspan x="641.24" textLength="66.60" lengthAdjust="spacingAndGlyphs">had</tspan> <tspan x="716.65" textLength="43.14" lengthAdjust="spacingAndGlyphs">an</tspan> <tspan x="768.61" textLength="176.08" lengthAdjust="spacingAndGlyphs">appetitive</tspan> <tspan x="953.50" textLength="92.39" lengthAdjust="spacingAndGlyphs">score</tspan> <tspan x="1054.71" textLength="34.98" lengthAdjust="spacingAndGlyphs">of</tspan> <tspan x="1098.51" textLength="21.34" lengthAdjust="spacingAndGlyphs">3</tspan> <tspan x="1128.67" textLength="66.60" lengthAdjust="spacingAndGlyphs">and</tspan> <tspan x="1204.08" textLength="20.05" lengthAdjust="spacingAndGlyphs">a</tspan> <tspan x="1232.95" textLength="105.57" lengthAdjust="spacingAndGlyphs">61.5%</tspan> <tspan x="1347.34" textLength="83.57" lengthAdjust="spacingAndGlyphs">drop</tspan> <tspan x="1439.73" textLength="32.82" lengthAdjust="spacingAndGlyphs">in</tspan> <tspan x="1481.37" textLength="191.01" lengthAdjust="spacingAndGlyphs">depression</tspan> <tspan x="1681.20" textLength="101.00" lengthAdjust="spacingAndGlyphs">score.</tspan></text>
<text x="17.30" y="2387.94" font-size="26.5" textLength="13.40" lengthAdjust="spacingAndGlyphs">c</text>
<text y="2403.94" font-size="40.0"><tspan x="31.20" textLength="74.08" lengthAdjust="spacingAndGlyphs">Two</tspan> <tspan x="114.09" textLength="142.79" lengthAdjust="spacingAndGlyphs">subjects</tspan> <tspan x="265.69" textLength="32.80" lengthAdjust="spacingAndGlyphs">in</tspan> <tspan x="307.30" textLength="57.66" lengthAdjust="spacingAndGlyphs">the</tspan> <tspan x="373.77" textLength="175.13" lengthAdjust="spacingAndGlyphs">fluoxetine</tspan> <tspan x="557.71" textLength="106.21" lengthAdjust="spacingAndGlyphs">group</tspan> <tspan x="672.73" textLength="66.55" lengthAdjust="spacingAndGlyphs">had</tspan> <tspan x="748.10" textLength="43.11" lengthAdjust="spacingAndGlyphs">an</tspan> <tspan x="800.02" textLength="175.96" lengthAdjust="spacingAndGlyphs">appetitive</tspan> <tspan x="984.79" textLength="92.32" lengthAdjust="spacingAndGlyphs">score</tspan> <tspan x="1085.93" textLength="34.96" lengthAdjust="spacingAndGlyphs">of</tspan> <tspan x="1129.70" textLength="21.32" lengthAdjust="spacingAndGlyphs">0</tspan> <tspan x="1159.84" textLength="66.55" lengthAdjust="spacingAndGlyphs">and</tspan> <tspan x="1235.20" textLength="20.04" lengthAdjust="spacingAndGlyphs">a</tspan> <tspan x="1264.05" textLength="84.18" lengthAdjust="spacingAndGlyphs">0.0%</tspan> <tspan x="1357.04" textLength="83.51" lengthAdjust="spacingAndGlyphs">drop</tspan> <tspan x="1449.36" textLength="32.80" lengthAdjust="spacingAndGlyphs">in</tspan> <tspan x="1490.97" textLength="190.88" lengthAdjust="spacingAndGlyphs">depression</tspan> <tspan x="1690.67" textLength="100.93" lengthAdjust="spacingAndGlyphs">score.</tspan></text>
<text x="17.00" y="2435.16" font-size="29.5" textLength="16.30" lengthAdjust="spacingAndGlyphs">d</text>
<text y="2451.16" font-size="40.0"><tspan x="35.00" textLength="74.08" lengthAdjust="spacingAndGlyphs">Two</tspan> <tspan x="117.90" textLength="142.80" lengthAdjust="spacingAndGlyphs">subjects</tspan> <tspan x="269.51" textLength="32.80" lengthAdjust="spacingAndGlyphs">in</tspan> <tspan x="311.13" textLength="57.66" lengthAdjust="spacingAndGlyphs">the</tspan> <tspan x="377.60" textLength="79.61" lengthAdjust="spacingAndGlyphs">light</tspan> <tspan x="466.03" textLength="134.53" lengthAdjust="spacingAndGlyphs">therapy</tspan> <tspan x="609.37" textLength="106.22" lengthAdjust="spacingAndGlyphs">group</tspan> <tspan x="724.40" textLength="66.56" lengthAdjust="spacingAndGlyphs">had</tspan> <tspan x="799.77" textLength="43.11" lengthAdjust="spacingAndGlyphs">an</tspan> <tspan x="851.70" textLength="175.98" lengthAdjust="spacingAndGlyphs">appetitive</tspan> <tspan x="1036.49" textLength="92.33" lengthAdjust="spacingAndGlyphs">score</tspan> <tspan x="1137.64" textLength="34.96" lengthAdjust="spacingAndGlyphs">of</tspan> <tspan x="1181.41" textLength="21.33" lengthAdjust="spacingAndGlyphs">0</tspan> <tspan x="1211.55" textLength="66.56" lengthAdjust="spacingAndGlyphs">and</tspan> <tspan x="1286.93" textLength="20.04" lengthAdjust="spacingAndGlyphs">a</tspan> <tspan x="1315.78" textLength="96.91" lengthAdjust="spacingAndGlyphs">100%</tspan> <tspan x="1421.50" textLength="83.52" lengthAdjust="spacingAndGlyphs">drop</tspan> <tspan x="1513.83" textLength="32.80" lengthAdjust="spacingAndGlyphs">in</tspan> <tspan x="1555.44" textLength="190.90" lengthAdjust="spacingAndGlyphs">depression</tspan> <tspan x="1755.16" textLength="100.94" lengthAdjust="spacingAndGlyphs">score.</tspan></text>
<text x="16.50" y="2482.38" font-size="26.5" textLength="15.70" lengthAdjust="spacingAndGlyphs">e</text>
<text y="2498.38" font-size="40.0"><tspan x="32.30" textLength="228.41" lengthAdjust="spacingAndGlyphs">Combination</tspan> <tspan x="264.47" textLength="24.88" lengthAdjust="spacingAndGlyphs">=</tspan> <tspan x="293.11" textLength="79.94" lengthAdjust="spacingAndGlyphs">light</tspan> <tspan x="381.89" textLength="135.08" lengthAdjust="spacingAndGlyphs">therapy</tspan> <tspan x="525.82" textLength="73.13" lengthAdjust="spacingAndGlyphs">plus</tspan> <tspan x="607.80" textLength="184.50" lengthAdjust="spacingAndGlyphs">fluoxetine.</tspan></text>
<text y="2545.60" font-size="40.0"><tspan x="18.30" textLength="252.54" lengthAdjust="spacingAndGlyphs">Abbreviations:</tspan> <tspan x="279.70" textLength="130.01" lengthAdjust="spacingAndGlyphs">MADRS</tspan> <tspan x="413.46" textLength="24.89" lengthAdjust="spacingAndGlyphs">=</tspan> <tspan x="442.11" textLength="365.47" lengthAdjust="spacingAndGlyphs">Montgomery-Asberg</tspan> <tspan x="816.44" textLength="196.04" lengthAdjust="spacingAndGlyphs">Depression</tspan> <tspan x="1021.33" textLength="112.72" lengthAdjust="spacingAndGlyphs">Rating</tspan> <tspan x="1142.90" textLength="98.85" lengthAdjust="spacingAndGlyphs">Scale,</tspan> <tspan x="1250.61" textLength="13.66" lengthAdjust="spacingAndGlyphs" font-style="italic">r</tspan> <tspan x="1268.02" textLength="24.89" lengthAdjust="spacingAndGlyphs">=</tspan> <tspan x="1296.67" textLength="189.56" lengthAdjust="spacingAndGlyphs">correlation</tspan> <tspan x="1495.09" textLength="191.78" lengthAdjust="spacingAndGlyphs">coefficient,</tspan> <tspan x="1695.72" textLength="171.56" lengthAdjust="spacingAndGlyphs">SIGH-SAD</tspan> <tspan x="1871.04" textLength="24.89" lengthAdjust="spacingAndGlyphs">=</tspan> <tspan x="1899.69" textLength="184.76" lengthAdjust="spacingAndGlyphs">Structured</tspan> <tspan x="2093.30" textLength="163.09" lengthAdjust="spacingAndGlyphs">Interview</tspan> <tspan x="2265.24" textLength="104.24" lengthAdjust="spacingAndGlyphs">Guide</tspan> <tspan x="2378.34" textLength="48.78" lengthAdjust="spacingAndGlyphs">for</tspan> <tspan x="2435.97" textLength="57.93" lengthAdjust="spacingAndGlyphs">the</tspan> <tspan x="2502.75" textLength="161.75" lengthAdjust="spacingAndGlyphs">Hamilton</tspan></text>
<text y="2592.82" font-size="40.0"><tspan x="49.90" textLength="195.91" lengthAdjust="spacingAndGlyphs">Depression</tspan> <tspan x="254.65" textLength="112.64" lengthAdjust="spacingAndGlyphs">Rating</tspan> <tspan x="376.15" textLength="98.79" lengthAdjust="spacingAndGlyphs">Scale,</tspan> <tspan x="483.78" textLength="154.17" lengthAdjust="spacingAndGlyphs">Seasonal</tspan> <tspan x="646.80" textLength="154.09" lengthAdjust="spacingAndGlyphs">Affective</tspan> <tspan x="809.74" textLength="165.27" lengthAdjust="spacingAndGlyphs">Disorders</tspan> <tspan x="983.86" textLength="135.64" lengthAdjust="spacingAndGlyphs">version.</tspan></text>
</svg>
</body>
</html>
